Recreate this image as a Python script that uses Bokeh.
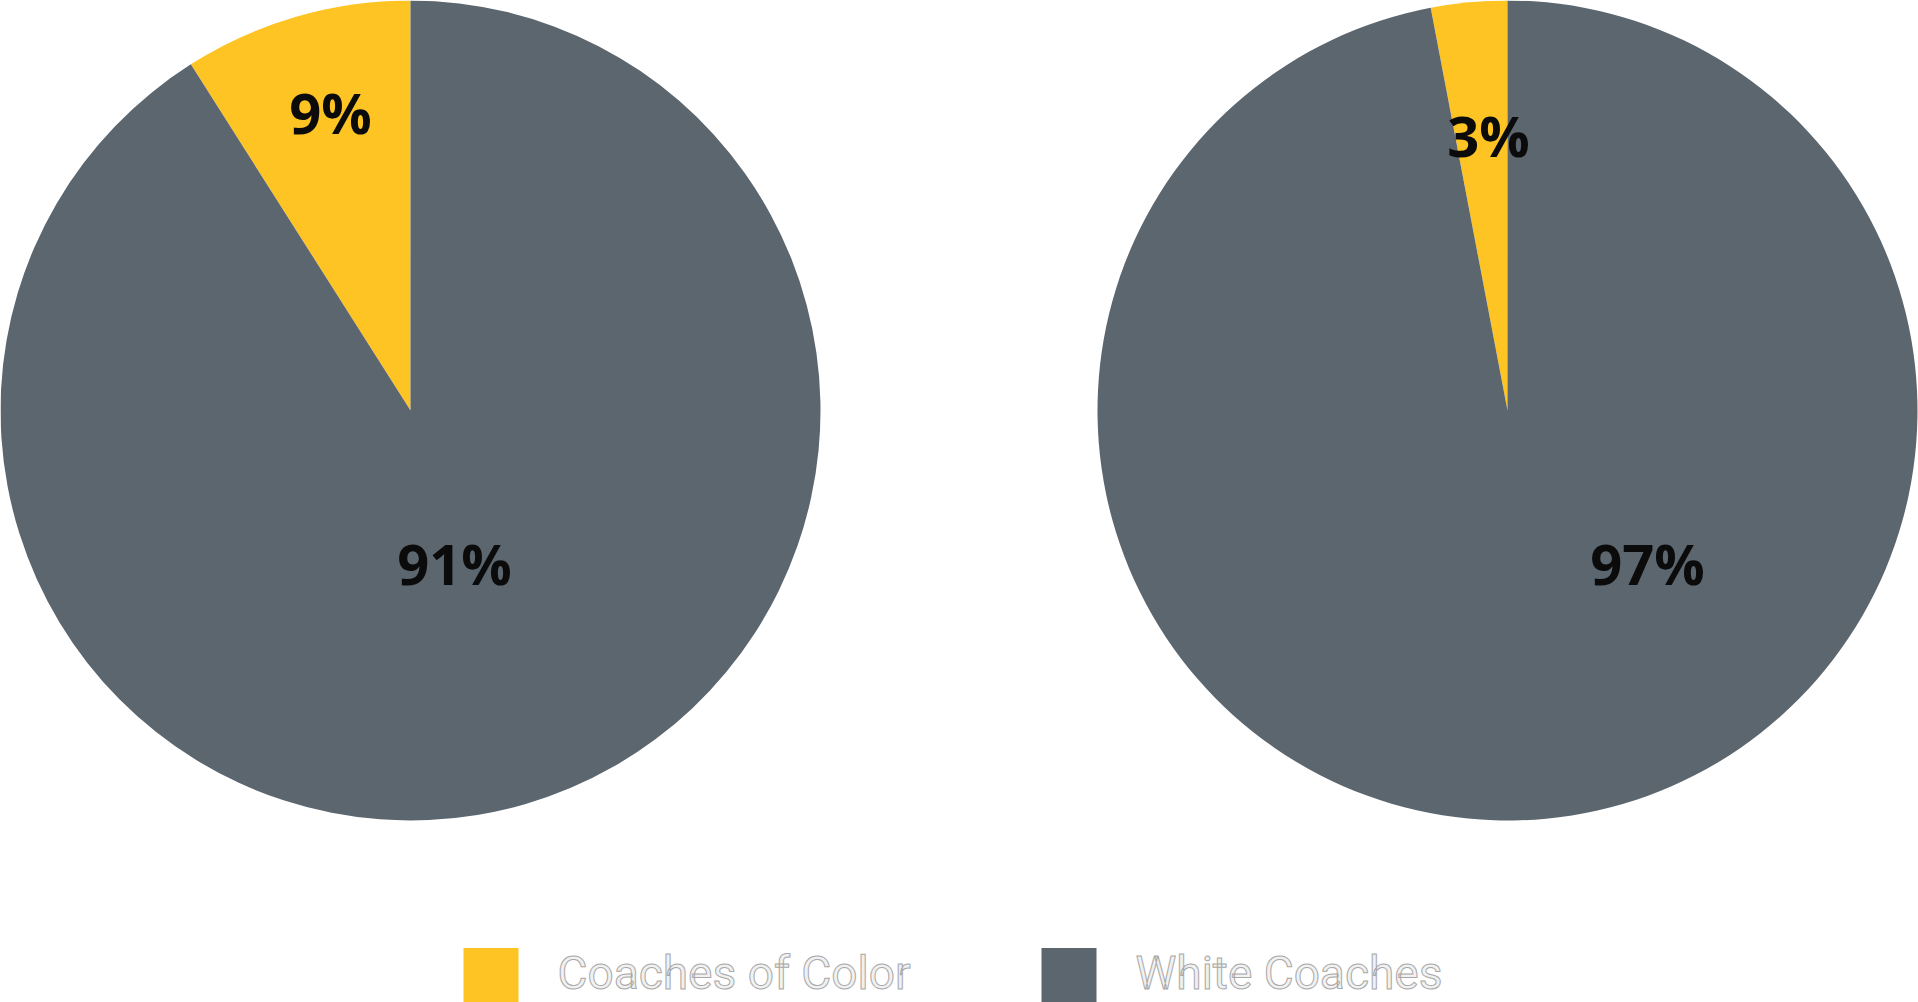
import numpy as np
from bokeh.plotting import figure
from bokeh.models import Range1d
from bokeh.core.properties import value
from bokeh.embed import file_html
from bokeh.resources import INLINE

# data
categories = ["Coaches of Color", "White Coaches"]
colors = ["#FEC424", "#5C666F"]
left_pct = [9, 91]
right_pct = [3, 97]

# layout (pixels of the reference, y measured from the top)
W, H = 1918, 1002
R = 410
centers = [(410, 410), (1507, 410)]
# label offsets from pie centre (dx, dy down)
label_offsets = [[(-80, -299), (44, 152)], [(-19, -276), (140, 152)]]

p = figure(width=W, height=H, toolbar_location=None, output_backend="svg",
           x_range=Range1d(0, W), y_range=Range1d(0, H), min_border=0)
p.axis.visible = False
p.grid.grid_line_color = None
p.outline_line_color = None
p.background_fill_color = "white"

for (cx, cy), pcts, offs in zip(centers, [left_pct, right_pct], label_offsets):
    fr = np.array(pcts) / 100.0
    ends = np.cumsum(fr) * 2 * np.pi + np.pi / 2
    starts = np.concatenate([[np.pi / 2], ends[:-1]])
    p.wedge(x=[cx] * 2, y=[H - cy] * 2, radius=R, start_angle=list(starts), end_angle=list(ends),
            fill_color=colors, line_color=None)
    p.text(x=[cx + o[0] for o in offs], y=[H - cy - o[1] for o in offs],
           text=[f"{v}%" for v in pcts], text_align="center", text_baseline="middle",
           text_font=value("Open Sans"), text_font_style="bold", text_font_size="56px",
           text_color="#0b0b0b")

# legend
sq_x = [490.5, 1068.5]
txt_x = [557, 1135]
p.rect(x=sq_x, y=[H - 975] * 2, width=55, height=55, fill_color=colors, line_color=None)
p.text(x=txt_x, y=[H - 972] * 2, text=categories, text_align="left", text_baseline="middle",
       text_font=value("Roboto"), text_font_size="46px", text_color="#f1f1f1",
       text_outline_color="#a8a8a8")

open("out.html", "w").write(file_html(p, INLINE))
